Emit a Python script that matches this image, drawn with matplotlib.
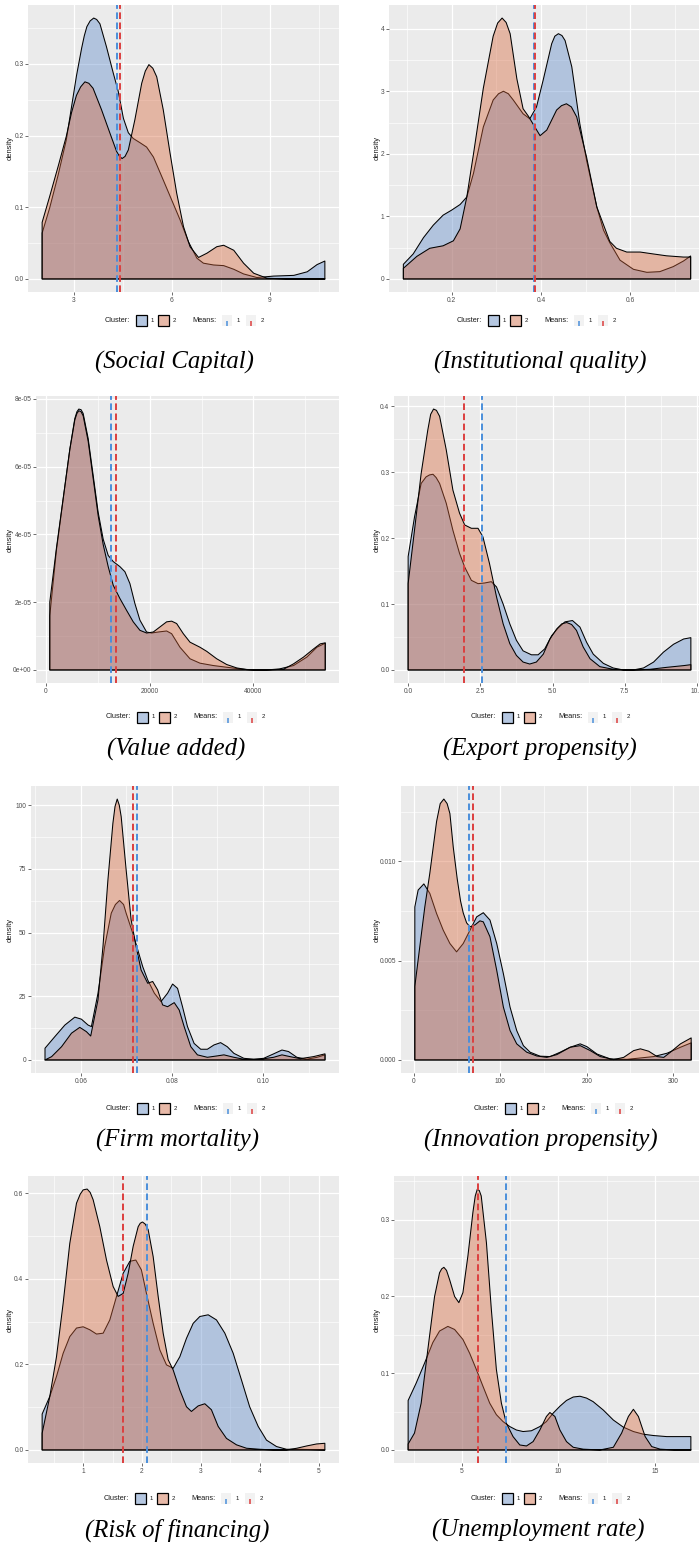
import numpy as np
import matplotlib.pyplot as plt
from matplotlib.patches import Rectangle

plt.rcParams["font.family"] = ["Liberation Sans", "DejaVu Sans"]

# =========================================================
# DATA (density curves per cluster)
# =========================================================
# Social Capital
sc_blue_x = [2.03, 2.26, 2.52, 2.77, 2.93, 3.08, 3.24, 3.32, 3.40, 3.50, 3.61, 3.70, 3.80, 4.00,
             4.21, 4.36, 4.52, 4.67, 4.82, 5.03, 5.23, 5.44, 5.74, 6.00, 6.26, 6.51, 6.77, 6.97,
             7.28, 7.59, 7.90, 8.20, 8.61, 9.12, 9.74, 10.15, 10.45, 10.69]
sc_blue_y = [0.064, 0.099, 0.145, 0.194, 0.240, 0.283, 0.322, 0.339, 0.352, 0.360, 0.364, 0.362,
             0.356, 0.324, 0.287, 0.262, 0.224, 0.204, 0.196, 0.190, 0.184, 0.170, 0.138, 0.110,
             0.082, 0.052, 0.029, 0.022, 0.0195, 0.0186, 0.0135, 0.007, 0.002, 0.004, 0.005,
             0.010, 0.020, 0.025]
sc_red_x = [2.03, 2.26, 2.52, 2.77, 2.93, 3.08, 3.21, 3.34, 3.46, 3.59, 3.85, 4.11, 4.31, 4.40,
            4.48, 4.57, 4.67, 4.87, 5.08, 5.19, 5.30, 5.42, 5.54, 5.74, 5.95, 6.15, 6.36, 6.56,
            6.82, 7.08, 7.38, 7.59, 7.90, 8.20, 8.51, 8.92, 9.50, 10.69]
sc_red_y = [0.079, 0.115, 0.157, 0.199, 0.232, 0.256, 0.268, 0.275, 0.273, 0.266, 0.236, 0.203,
            0.178, 0.171, 0.168, 0.171, 0.180, 0.222, 0.273, 0.290, 0.299, 0.294, 0.282, 0.236,
            0.175, 0.120, 0.073, 0.045, 0.030, 0.036, 0.045, 0.047, 0.040, 0.022, 0.008, 0.001,
            0.0, 0.0]
sc_means = [4.33, 4.41]

# Institutional quality
iq_blue_x = [0.092, 0.114, 0.137, 0.159, 0.181, 0.200, 0.219, 0.234, 0.249, 0.271, 0.293, 0.305,
             0.316, 0.327, 0.338, 0.360, 0.375, 0.390, 0.405, 0.424, 0.431, 0.439, 0.447, 0.454,
             0.469, 0.487, 0.502, 0.525, 0.540, 0.554, 0.577, 0.607, 0.637, 0.666, 0.696, 0.719,
             0.735]
iq_blue_y = [0.234, 0.40, 0.66, 0.86, 1.02, 1.10, 1.19, 1.31, 1.69, 2.43, 2.86, 2.96, 3.00, 2.96,
             2.86, 2.64, 2.56, 2.75, 3.18, 3.76, 3.88, 3.92, 3.89, 3.81, 3.39, 2.48, 1.90, 1.15,
             0.78, 0.58, 0.30, 0.154, 0.106, 0.117, 0.197, 0.287, 0.367]
iq_red_x = [0.092, 0.122, 0.151, 0.181, 0.204, 0.219, 0.234, 0.249, 0.271, 0.293, 0.303, 0.313,
            0.322, 0.331, 0.346, 0.360, 0.372, 0.387, 0.398, 0.413, 0.435, 0.446, 0.457, 0.468,
            0.480, 0.502, 0.525, 0.554, 0.569, 0.592, 0.622, 0.651, 0.681, 0.719, 0.735]
iq_red_y = [0.17, 0.36, 0.49, 0.53, 0.61, 0.80, 1.31, 2.00, 3.05, 3.88, 4.09, 4.17, 4.10, 3.92,
            3.20, 2.72, 2.60, 2.42, 2.29, 2.38, 2.70, 2.77, 2.80, 2.75, 2.59, 1.95, 1.15, 0.60,
            0.49, 0.43, 0.43, 0.40, 0.37, 0.35, 0.35]
iq_means = [0.3855, 0.3875]

# Value added
va_blue_x = [772, 2058, 3344, 4630, 5595, 6000, 6367, 6800, 7203, 8168, 9132, 10097, 11061, 12026,
             12991, 14277, 15242, 16207, 17171, 18136, 19422, 20387, 21673, 23281, 24245, 25853,
             27782, 29711, 32284, 34856, 37429, 40000, 42500, 45000, 47720, 50293, 52222, 53830]
va_blue_y = [1.6e-5, 3.54e-5, 5.03e-5, 6.51e-5, 7.42e-5, 7.62e-5, 7.70e-5, 7.68e-5, 7.57e-5,
             6.83e-5, 5.74e-5, 4.65e-5, 3.86e-5, 3.38e-5, 3.2e-5, 3.05e-5, 2.9e-5, 2.55e-5,
             1.96e-5, 1.47e-5, 1.12e-5, 1.09e-5, 1.12e-5, 1.15e-5, 1.07e-5, 6.7e-6, 3.3e-6,
             2.0e-6, 1.3e-6, 8e-7, 3e-7, 0.0, 0.0, 3e-7, 1.3e-6, 3.8e-6, 6.7e-6, 7.9e-6]
va_red_x = [772, 2058, 3344, 4630, 5595, 6000, 6367, 6800, 7203, 8168, 9132, 10097, 11061, 12026,
            12991, 14277, 15563, 16849, 18136, 19422, 20709, 21995, 23281, 24245, 25210, 26496,
            27782, 29711, 30997, 32927, 34856, 36785, 38714, 42000, 45790, 47720, 49650, 51579,
            52865, 53830]
va_red_y = [2.0e-5, 3.6e-5, 5.05e-5, 6.5e-5, 7.38e-5, 7.57e-5, 7.65e-5, 7.62e-5, 7.5e-5, 6.75e-5,
            5.65e-5, 4.55e-5, 3.7e-5, 3.05e-5, 2.5e-5, 2.11e-5, 1.76e-5, 1.42e-5, 1.17e-5,
            1.09e-5, 1.12e-5, 1.27e-5, 1.42e-5, 1.44e-5, 1.37e-5, 1.07e-5, 8.2e-6, 6.7e-6,
            5.5e-6, 3.3e-6, 1.6e-6, 6e-7, 1e-7, 0.0, 2e-7, 1.8e-6, 3.8e-6, 6.2e-6, 7.7e-6,
            8.0e-6]
va_means = [12476, 13441]

# Export propensity
ep_blue_x = [0.0, 0.22, 0.45, 0.62, 0.74, 0.86, 0.97, 1.09, 1.32, 1.55, 1.78, 1.96, 2.19, 2.42,
             2.65, 2.88, 3.06, 3.29, 3.52, 3.75, 3.98, 4.27, 4.50, 4.73, 4.97, 5.20, 5.43, 5.69,
             5.95, 6.18, 6.41, 6.76, 7.10, 7.45, 7.80, 8.15, 8.50, 8.84, 9.19, 9.54, 9.79]
ep_blue_y = [0.172, 0.232, 0.283, 0.293, 0.296, 0.297, 0.292, 0.283, 0.253, 0.212, 0.177, 0.156,
             0.136, 0.131, 0.132, 0.134, 0.126, 0.100, 0.070, 0.045, 0.029, 0.023, 0.023, 0.032,
             0.052, 0.064, 0.073, 0.075, 0.065, 0.042, 0.024, 0.010, 0.003, 0.0, 0.0, 0.003,
             0.012, 0.027, 0.039, 0.047, 0.049]
ep_red_x = [0.0, 0.22, 0.45, 0.68, 0.78, 0.88, 0.98, 1.09, 1.32, 1.55, 1.78, 1.96, 2.19, 2.42,
            2.59, 2.82, 3.06, 3.29, 3.52, 3.75, 3.98, 4.21, 4.44, 4.68, 4.91, 5.14, 5.32, 5.49,
            5.66, 5.83, 6.06, 6.30, 6.64, 7.10, 7.80, 8.38, 8.96, 9.54, 9.79]
ep_red_y = [0.131, 0.212, 0.298, 0.364, 0.388, 0.396, 0.394, 0.385, 0.334, 0.273, 0.238, 0.220,
            0.215, 0.215, 0.202, 0.161, 0.111, 0.070, 0.040, 0.022, 0.012, 0.009, 0.012, 0.024,
            0.047, 0.062, 0.070, 0.072, 0.069, 0.060, 0.035, 0.017, 0.005, 0.001, 0.0, 0.001,
            0.004, 0.0066, 0.008]
ep_means = [2.57, 1.93]

# Firm mortality
fm_blue_x = [0.05215, 0.05433, 0.05651, 0.05869, 0.06015, 0.06160, 0.06233, 0.06378, 0.06524,
             0.06669, 0.06760, 0.06851, 0.06940, 0.06996, 0.07142, 0.07251, 0.07360, 0.07469,
             0.07615, 0.07760, 0.07905, 0.08015, 0.08124, 0.08233, 0.08342, 0.08487, 0.08633,
             0.08778, 0.08924, 0.09069, 0.09215, 0.09360, 0.09578, 0.09796, 0.10015, 0.10233,
             0.10415, 0.10560, 0.10742, 0.10960, 0.11178, 0.11360]
fm_blue_y = [4.6, 9.2, 13.7, 16.8, 16.0, 13.7, 13.1, 26.2, 44.5, 57.6, 61.0, 62.6, 61.0, 57.6,
             49.7, 43.2, 36.6, 31.4, 26.2, 22.9, 26.2, 29.8, 28.1, 20.9, 13.1, 6.5, 4.2, 4.2, 5.9,
             6.8, 5.2, 2.6, 0.65, 0.26, 0.65, 2.4, 3.9, 3.3, 1.05, 0.3, 1.0, 2.0]
fm_red_x = [0.05215, 0.05360, 0.05578, 0.05796, 0.05978, 0.06124, 0.06218, 0.06378, 0.06487,
            0.06596, 0.06705, 0.06752, 0.06800, 0.06845, 0.06887, 0.06996, 0.07105, 0.07215,
            0.07324, 0.07469, 0.07578, 0.07687, 0.07796, 0.07905, 0.08051, 0.08160, 0.08269,
            0.08415, 0.08560, 0.08778, 0.08996, 0.09142, 0.09360, 0.09578, 0.09940, 0.10233,
            0.10415, 0.10596, 0.10815, 0.11105, 0.11360]
fm_red_y = [0.0, 1.3, 5.2, 10.5, 12.8, 11.1, 9.4, 23.6, 44.5, 70.7, 92.9, 99.5, 102.4, 100.0,
            95.5, 74.6, 55.0, 44.5, 35.3, 30.1, 30.8, 27.5, 21.6, 20.9, 22.5, 19.6, 13.1, 5.2,
            2.0, 1.05, 1.6, 2.0, 1.05, 0.26, 0.26, 1.05, 2.0, 1.3, 0.5, 1.3, 2.4]
fm_means = [0.07236, 0.07149]

# Innovation propensity
ip_blue_x = [1.16, 5.0, 11.6, 18.5, 26.3, 34.0, 41.7, 49.4, 57.1, 64.9, 72.6, 80.3, 88.0, 95.8,
             103.5, 111.2, 118.9, 126.6, 134.4, 145.9, 157.5, 169.1, 180.7, 192.3, 200.0, 211.6,
             227.0, 246.3, 261.8, 277.2, 292.7, 308.1, 320.5]
ip_blue_y = [0.0077, 0.00855, 0.00886, 0.00838, 0.00737, 0.00653, 0.00586, 0.00544, 0.00586,
             0.00653, 0.0072, 0.00741, 0.00704, 0.00586, 0.00434, 0.00266, 0.00148, 0.00072,
             0.00039, 0.00019, 0.00017, 0.00039, 0.00064, 0.00081, 0.00067, 0.0003, 0.00005,
             0.00003, 0.0001, 0.00017, 0.00034, 0.00064, 0.00086]
ip_red_x = [1.16, 6.9, 12.7, 18.5, 22.4, 26.3, 30.5, 34.7, 38.5, 41.7, 45.6, 50.2, 54.0, 57.1,
            61.0, 64.9, 70.7, 76.4, 80.3, 88.0, 95.8, 103.5, 111.2, 118.9, 130.5, 142.1, 153.7,
            165.3, 180.7, 192.3, 203.9, 215.4, 230.9, 242.5, 254.0, 261.8, 271.4, 281.1, 288.8,
            296.5, 308.1, 320.5]
ip_red_y = [0.0037, 0.0057, 0.0077, 0.0094, 0.0107, 0.0120, 0.0129, 0.01313, 0.0129, 0.0124,
            0.0107, 0.0091, 0.0080, 0.0074, 0.0069, 0.0067, 0.0068, 0.0070, 0.00695, 0.0062,
            0.00451, 0.00266, 0.00148, 0.00081, 0.00039, 0.0002, 0.00013, 0.00027, 0.00064,
            0.00072, 0.00047, 0.00017, 0.00002, 0.00013, 0.00047, 0.00056, 0.00044, 0.00017,
            0.00013, 0.00039, 0.00081, 0.00111]
ip_means = [64.1, 68.3]

# Risk of financing
rf_blue_x = [0.303, 0.433, 0.547, 0.660, 0.773, 0.887, 1.000, 1.113, 1.227, 1.340, 1.453, 1.567,
             1.680, 1.793, 1.895, 1.990, 2.076, 2.190, 2.303, 2.416, 2.530, 2.643, 2.756, 2.870,
             2.983, 3.125, 3.266, 3.408, 3.550, 3.690, 3.830, 3.975, 4.116, 4.286, 4.456, 4.630,
             4.850, 5.108]
rf_blue_y = [0.084, 0.125, 0.172, 0.226, 0.265, 0.285, 0.288, 0.281, 0.271, 0.273, 0.304, 0.359,
             0.413, 0.441, 0.444, 0.421, 0.366, 0.296, 0.234, 0.199, 0.191, 0.218, 0.261, 0.296,
             0.312, 0.316, 0.304, 0.273, 0.226, 0.164, 0.101, 0.055, 0.023, 0.008, 0.0016, 0.0016,
             0.001, 0.0]
rf_red_x = [0.303, 0.433, 0.547, 0.660, 0.773, 0.887, 0.950, 1.000, 1.068, 1.120, 1.170, 1.283,
            1.397, 1.510, 1.595, 1.680, 1.765, 1.850, 1.935, 1.970, 2.008, 2.055, 2.105, 2.190,
            2.275, 2.360, 2.445, 2.530, 2.643, 2.756, 2.840, 2.955, 3.068, 3.180, 3.295, 3.436,
            3.606, 3.776, 4.000, 4.230, 4.456, 4.630, 4.800, 4.966, 5.108]
rf_red_y = [0.039, 0.125, 0.218, 0.343, 0.483, 0.577, 0.598, 0.608, 0.610, 0.602, 0.585, 0.522,
            0.444, 0.382, 0.359, 0.366, 0.413, 0.476, 0.522, 0.530, 0.533, 0.528, 0.515, 0.452,
            0.359, 0.273, 0.211, 0.187, 0.140, 0.101, 0.090, 0.103, 0.108, 0.094, 0.055, 0.027,
            0.012, 0.004, 0.0016, 0.0, 0.0, 0.004, 0.0094, 0.014, 0.0156]
rf_means = [2.093, 1.68]

# Unemployment rate
ur_blue_x = [2.21, 2.625, 3.06, 3.49, 3.84, 4.27, 4.62, 5.05, 5.40, 5.745, 6.09, 6.44, 6.785,
             7.13, 7.48, 7.825, 8.17, 8.60, 9.04, 9.38, 9.73, 10.08, 10.42, 10.77, 11.12, 11.46,
             11.80, 12.33, 12.85, 13.37, 13.89, 14.41, 14.93, 15.62, 16.32, 16.87]
ur_blue_y = [0.0645, 0.087, 0.113, 0.140, 0.155, 0.161, 0.157, 0.144, 0.126, 0.105, 0.083, 0.061,
             0.046, 0.037, 0.0305, 0.026, 0.024, 0.025, 0.0305, 0.037, 0.048, 0.057, 0.0645,
             0.069, 0.070, 0.0676, 0.063, 0.052, 0.039, 0.0297, 0.024, 0.0205, 0.0188, 0.0174,
             0.0174, 0.0174]
ur_red_x = [2.21, 2.54, 2.885, 3.232, 3.58, 3.84, 3.95, 4.064, 4.20, 4.36, 4.62, 4.84, 5.05, 5.31,
            5.57, 5.69, 5.80, 5.90, 6.00, 6.27, 6.525, 6.785, 7.045, 7.30, 7.65, 8.00, 8.345,
            8.69, 9.04, 9.38, 9.56, 9.82, 10.08, 10.42, 10.77, 11.29, 12.16, 12.85, 13.28, 13.63,
            13.89, 14.15, 14.50, 14.84, 15.28, 16.00, 16.87]
ur_red_y = [0.0078, 0.022, 0.061, 0.131, 0.200, 0.231, 0.236, 0.238, 0.234, 0.222, 0.200, 0.192,
            0.205, 0.253, 0.310, 0.331, 0.340, 0.338, 0.331, 0.270, 0.183, 0.105, 0.061, 0.035,
            0.0174, 0.0065, 0.0052, 0.0109, 0.026, 0.0436, 0.0488, 0.0436, 0.026, 0.0109,
            0.0035, 0.001, 0.0, 0.0035, 0.022, 0.0436, 0.053, 0.0436, 0.0174, 0.0044, 0.001,
            0.0, 0.0]
ur_means = [7.30, 5.81]

# tick breaks / labels
sc_xticks, sc_xlabels = [3, 6, 9], ["3", "6", "9"]
sc_yticks, sc_ylabels = [0, 0.1, 0.2, 0.3], ["0.0", "0.1", "0.2", "0.3"]
iq_xticks, iq_xlabels = [0.2, 0.4, 0.6], ["0.2", "0.4", "0.6"]
iq_yticks, iq_ylabels = [0, 1, 2, 3, 4], ["0", "1", "2", "3", "4"]
va_xticks, va_xlabels = [0, 20000, 40000], ["0", "20000", "40000"]
va_yticks, va_ylabels = [0, 2e-5, 4e-5, 6e-5, 8e-5], ["0e+00", "2e-05", "4e-05", "6e-05", "8e-05"]
ep_xticks, ep_xlabels = [0, 2.5, 5, 7.5, 10], ["0.0", "2.5", "5.0", "7.5", "10.0"]
ep_yticks, ep_ylabels = [0, 0.1, 0.2, 0.3, 0.4], ["0.0", "0.1", "0.2", "0.3", "0.4"]
fm_xticks, fm_xlabels = [0.06, 0.08, 0.10], ["0.06", "0.08", "0.10"]
fm_yticks, fm_ylabels = [0, 25, 50, 75, 100], ["0", "25", "50", "75", "100"]
ip_xticks, ip_xlabels = [0, 100, 200, 300], ["0", "100", "200", "300"]
ip_yticks, ip_ylabels = [0, 0.005, 0.010], ["0.000", "0.005", "0.010"]
rf_xticks, rf_xlabels = [1, 2, 3, 4, 5], ["1", "2", "3", "4", "5"]
rf_yticks, rf_ylabels = [0, 0.2, 0.4, 0.6], ["0.0", "0.2", "0.4", "0.6"]
ur_xticks, ur_xlabels = [5, 10, 15], ["5", "10", "15"]
ur_yticks, ur_ylabels = [0, 0.1, 0.2, 0.3], ["0.0", "0.1", "0.2", "0.3"]

captions = ["Social Capital", "Institutional quality", "Value added", "Export propensity",
            "Firm mortality", "Innovation propensity", "Risk of financing", "Unemployment rate"]
cluster_labels = ["1", "2"]

# =========================================================
# STYLE / LAYOUT (pixels)
# =========================================================
W, H = 699, 1545
PANEL_BG = "#EBEBEB"
BLUE_FILL = (90 / 255, 135 / 255, 200 / 255, 0.4)
RED_FILL = (215 / 255, 101 / 255, 57 / 255, 0.4)
BLUE_LINE = "#4A8FDB"
RED_LINE = "#DC3F3F"
KEY_BG = "#F2F2F2"

# (left, right, top, bottom) of the grey panel, y label x, legend x0, legend y, caption x, caption y
LAYOUT = [
    (28, 339, 5, 292, 10, 105, 320, 174, 362),
    (389, 705, 5, 292, 377, 457, 320, 540, 362),
    (36, 339, 396, 683, 10, 106, 717, 176, 749),
    (394, 705, 396, 683, 377, 471, 717, 540, 749),
    (31, 339, 786, 1073, 10, 106, 1108, 178, 1140),
    (401, 705, 786, 1073, 377, 474, 1108, 541, 1140),
    (28, 339, 1176, 1463, 10, 104, 1498, 177, 1530),
    (394, 705, 1176, 1463, 377, 471, 1498, 538, 1530),
]

PANELS = [
    (sc_blue_x, sc_blue_y, sc_red_x, sc_red_y, sc_means, sc_xticks, sc_xlabels, sc_yticks, sc_ylabels),
    (iq_blue_x, iq_blue_y, iq_red_x, iq_red_y, iq_means, iq_xticks, iq_xlabels, iq_yticks, iq_ylabels),
    (va_blue_x, va_blue_y, va_red_x, va_red_y, va_means, va_xticks, va_xlabels, va_yticks, va_ylabels),
    (ep_blue_x, ep_blue_y, ep_red_x, ep_red_y, ep_means, ep_xticks, ep_xlabels, ep_yticks, ep_ylabels),
    (fm_blue_x, fm_blue_y, fm_red_x, fm_red_y, fm_means, fm_xticks, fm_xlabels, fm_yticks, fm_ylabels),
    (ip_blue_x, ip_blue_y, ip_red_x, ip_red_y, ip_means, ip_xticks, ip_xlabels, ip_yticks, ip_ylabels),
    (rf_blue_x, rf_blue_y, rf_red_x, rf_red_y, rf_means, rf_xticks, rf_xlabels, rf_yticks, rf_ylabels),
    (ur_blue_x, ur_blue_y, ur_red_x, ur_red_y, ur_means, ur_xticks, ur_xlabels, ur_yticks, ur_ylabels),
]


def minor_breaks(major, lo, hi):
    step = major[1] - major[0]
    vals = np.arange(major[0] - step / 2, major[-1] + step, step)
    return [v for v in vals if lo < v < hi]


def draw_panel(fig, box, panel):
    x0, x1, y0, y1 = box[:4]
    bx, by, rx, ry, means, xt, xl, yt, yl = panel
    ax = fig.add_axes([x0 / W, 1 - y1 / H, (x1 - x0) / W, (y1 - y0) / H])
    ax.set_facecolor(PANEL_BG)
    ax.set_axisbelow(True)

    for xs, ys, col in [(bx, by, BLUE_FILL), (rx, ry, RED_FILL)]:
        px = [xs[0]] + list(xs) + [xs[-1]]
        py = [0] + list(ys) + [0]
        ax.fill(px, py, facecolor=col, edgecolor="black", lw=0.75, joinstyle="round", zorder=2)

    for m, col in zip(means, [BLUE_LINE, RED_LINE]):
        ax.axvline(m, color=col, lw=1.4, dashes=(3.4, 1.8), zorder=3)

    xlo = min(bx[0], rx[0])
    xhi = max(bx[-1], rx[-1])
    xpad = 0.05 * (xhi - xlo)
    ymax = max(max(by), max(ry))
    ax.set_xlim(xlo - xpad, xhi + xpad)
    ax.set_ylim(-0.05 * ymax, 1.05 * ymax)

    ax.set_xticks(xt)
    ax.set_xticklabels(xl)
    ax.set_yticks(yt)
    ax.set_yticklabels(yl)
    ax.set_xticks(minor_breaks(xt, *ax.get_xlim()), minor=True)
    ax.set_yticks(minor_breaks(yt, *ax.get_ylim()), minor=True)

    ax.grid(which="major", color="white", lw=0.9)
    ax.grid(which="minor", color="white", lw=0.45)
    ax.tick_params(which="major", length=2.0, width=0.5, color="#333333",
                   labelsize=4.8, labelcolor="#4D4D4D", pad=1.3)
    ax.tick_params(which="minor", length=0)
    for s in ax.spines.values():
        s.set_visible(False)
    return ax


def draw_legend(ov, x0, yc):
    ov.text(x0, yc, "Cluster:", ha="left", va="center", fontsize=5.3, color="#1A1A1A")
    for dx, col, lab in [(31, BLUE_FILL, cluster_labels[0]), (53, RED_FILL, cluster_labels[1])]:
        ov.add_patch(Rectangle((x0 + dx, yc - 5.5), 11, 11, facecolor=KEY_BG, edgecolor="none"))
        ov.add_patch(Rectangle((x0 + dx, yc - 5.5), 11, 11, facecolor=col,
                               edgecolor="black", lw=0.9))
        ov.text(x0 + dx + 14.5, yc, lab, ha="left", va="center", fontsize=4.3, color="#1A1A1A")
    ov.text(x0 + 87, yc, "Means:", ha="left", va="center", fontsize=5.3, color="#1A1A1A")
    for dx, col, lab in [(117, BLUE_LINE, cluster_labels[0]), (141, RED_LINE, cluster_labels[1])]:
        ov.add_patch(Rectangle((x0 + dx, yc - 5.5), 10, 11, facecolor=KEY_BG, edgecolor="none"))
        ov.plot([x0 + dx + 5, x0 + dx + 5], [yc + 0.5, yc + 5.5], color=col, lw=1.1,
                solid_capstyle="butt")
        ov.text(x0 + dx + 14.5, yc, lab, ha="left", va="center", fontsize=4.3, color="#1A1A1A")


def main():
    fig = plt.figure(figsize=(W / 100, H / 100), dpi=100)

    for box, panel in zip(LAYOUT, PANELS):
        draw_panel(fig, box, panel)

    ov = fig.add_axes([0, 0, 1, 1])
    ov.set_xlim(0, W)
    ov.set_ylim(H, 0)
    ov.axis("off")
    ov.patch.set_alpha(0)

    for box, cap in zip(LAYOUT, captions):
        x0, x1, y0, y1, lx, gx, gy, cx, cy = box
        ov.text(lx, (y0 + y1) / 2, "density", rotation=90, ha="center", va="center",
                fontsize=5.4, color="#1A1A1A")
        draw_legend(ov, gx, gy)
        ov.text(cx, cy, f"({cap})", ha="center", va="center", fontsize=17.8,
                fontfamily="Liberation Serif", style="italic", color="black")

    fig.savefig("out.png", dpi=100)
    plt.close(fig)


if __name__ == "__main__":
    main()
